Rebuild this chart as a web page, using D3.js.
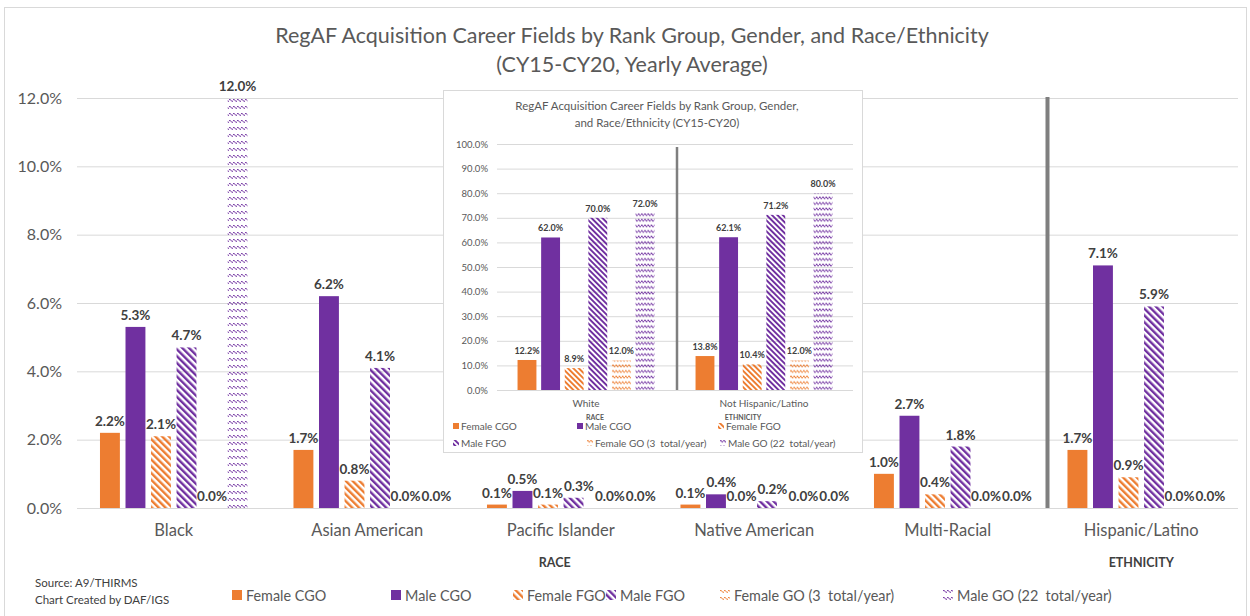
<!DOCTYPE html>
<html><head><meta charset="utf-8">
<script src="https://cdn.jsdelivr.net/npm/d3@7"></script>
<style>
html,body{margin:0;padding:0;background:#fff;}
svg{display:block;font-family:Lato,"Open Sans",sans-serif;}
text{white-space:pre;}
</style></head>
<body><svg id="chart" width="1250" height="616"></svg>
<script>
// ---------- DATA ----------
const mainCategories = ["Black","Asian American","Pacific Islander","Native American","Multi-Racial","Hispanic/Latino"];
const seriesNames = ["Female CGO","Male CGO","Female FGO","Male FGO","Female GO (3  total/year)","Male GO (22  total/year)"];
const femaleCGO = [2.2, 1.7, 0.1, 0.1, 1.0, 1.7];
const maleCGO   = [5.3, 6.2, 0.5, 0.4, 2.7, 7.1];
const femaleFGO = [2.1, 0.8, 0.1, 0.0, 0.4, 0.9];
const maleFGO   = [4.7, 4.1, 0.3, 0.2, 1.8, 5.9];
const femaleGO  = [0.0, 0.0, 0.0, 0.0, 0.0, 0.0];
const maleGO    = [12.0, 0.0, 0.0, 0.0, 0.0, 0.0];
const mainTicks = [0, 2, 4, 6, 8, 10, 12];

const insetCategories = ["White","Not Hispanic/Latino"];
const insetFemaleCGO = [12.2, 13.8];
const insetMaleCGO   = [62.0, 62.1];
const insetFemaleFGO = [8.9, 10.4];
const insetMaleFGO   = [70.0, 71.2];
const insetFemaleGO  = [12.0, 12.0];
const insetMaleGO    = [72.0, 80.0];
const insetTicks = [0,10,20,30,40,50,60,70,80,90,100];

const mainTitle = ["RegAF Acquisition Career Fields by Rank Group, Gender, and Race/Ethnicity","(CY15-CY20, Yearly Average)"];
const insetTitle = ["RegAF Acquisition Career Fields by Rank Group, Gender,","and Race/Ethnicity (CY15-CY20)"];
const sourceLines = ["Source: A9/THIRMS","Chart Created by DAF/IGS"];

// ---------- STYLE ----------
const ORANGE = "#ED7D31", PURPLE = "#7030A0";
const seriesStyle = [
  {color:ORANGE, kind:"solid"},
  {color:PURPLE, kind:"solid"},
  {color:ORANGE, kind:"stripe"},
  {color:PURPLE, kind:"stripe"},
  {color:ORANGE, kind:"wave"},
  {color:PURPLE, kind:"wave"}
];

const svg = d3.select("#chart");
const defs = svg.append("defs");

function makePatterns(suffix, scale){
  [["o",ORANGE],["p",PURPLE]].forEach(([k,c])=>{
    const sp = defs.append("pattern").attr("id","stripe-"+k+suffix)
      .attr("patternUnits","userSpaceOnUse").attr("width",4.8*scale).attr("height",4.8*scale)
      .attr("patternTransform","rotate(-45)");
    sp.append("rect").attr("x",0).attr("y",0).attr("width",2.4*scale).attr("height",4.8*scale).attr("fill",c);
    const wp = defs.append("pattern").attr("id","wave-"+k+suffix)
      .attr("patternUnits","userSpaceOnUse").attr("width",4*scale).attr("height",7*scale);
    wp.append("path").attr("d",`M0,${2*scale} L${1*scale},${1.2*scale} L${3*scale},${3.6*scale} L${4*scale},${2.8*scale}`)
      .attr("stroke",c).attr("stroke-width",1).attr("fill","none");
  });
}
makePatterns("", 1);
makePatterns("-s", 0.8);

function fillFor(i, suffix){
  const s = seriesStyle[i];
  const k = s.color===ORANGE ? "o" : "p";
  if (s.kind==="solid") return s.color;
  return `url(#${s.kind}-${k}${suffix})`;
}

// push overlapping labels to the right (like the spreadsheet's label placement)
function spreadLabels(sel, fontSize){
  const placed = [];
  sel.each(function(){
    const t = d3.select(this);
    const w = this.getComputedTextLength();
    let cx = +t.attr("x");
    const yb = +t.attr("y");
    placed.forEach(p=>{
      if (Math.abs(p.y - yb) < fontSize*0.95 && cx - w/2 < p.r + 1) cx = p.r + 1 + w/2;
    });
    t.attr("x", cx);
    placed.push({r: cx + w/2, y: yb});
  });
}

// outer frame
svg.append("rect").attr("x",4.5).attr("y",7.5).attr("width",1242).attr("height",620)
  .attr("fill","#fff").attr("stroke","#d9d9d9");

// ---------- MAIN CHART ----------
const mainSeries = [femaleCGO, maleCGO, femaleFGO, maleFGO, femaleGO, maleGO];
const y = d3.scaleLinear().domain([0,12]).range([508,98]);
const x = d3.scaleBand().domain(mainCategories).range([77,1238]);
const xs = d3.scaleBand().domain(d3.range(6)).range([0,x.bandwidth()]).paddingInner(0.22).paddingOuter(0.9);

svg.append("g").attr("transform","translate(77,0)")
  .call(d3.axisLeft(y).tickValues(mainTicks).tickSize(-(1238-77)).tickFormat(""))
  .call(g=>g.select(".domain").remove())
  .call(g=>g.selectAll("line").attr("stroke","#d9d9d9"));
svg.append("g").attr("transform","translate(77,0)")
  .call(d3.axisLeft(y).tickValues(mainTicks).tickSize(0).tickPadding(15).tickFormat(d=>d.toFixed(1)+"%"))
  .call(g=>g.select(".domain").remove())
  .call(g=>g.selectAll("text").attr("fill","#595959").style("font-size","16px").style("font-family","Lato"));

const groups = svg.append("g").selectAll("g").data(mainCategories).join("g")
  .attr("transform",d=>`translate(${x(d)},0)`);
groups.each(function(cat, ci){
  const g = d3.select(this);
  mainSeries.forEach((arr, si)=>{
    const v = arr[ci];
    g.append("rect").attr("x",xs(si)).attr("width",xs.bandwidth())
      .attr("y",y(v)).attr("height",y(0)-y(v)).attr("fill",fillFor(si,""));
  });
  const labels = g.append("g").selectAll("text").data(mainSeries.map(a=>a[ci])).join("text")
    .attr("x",(v,si)=>xs(si)+xs.bandwidth()/2).attr("y",v=>y(v)-7)
    .attr("text-anchor","middle").attr("fill","#404040")
    .style("font-size","13.5px").style("font-weight","bold")
    .text(v=>v.toFixed(1)+"%");
  spreadLabels(labels, 13.5);
});

svg.append("g").selectAll("text").data(mainCategories).join("text")
  .attr("x",d=>x(d)+x.bandwidth()/2).attr("y",536).attr("text-anchor","middle")
  .attr("fill","#595959").style("font-size","16.5px").text(d=>d);

const sepX = x("Hispanic/Latino")+3;
svg.append("line").attr("x1",sepX).attr("x2",sepX).attr("y1",97).attr("y2",508)
  .attr("stroke","#7f7f7f").attr("stroke-width",4);

svg.append("text").attr("x",(77+x("Hispanic/Latino"))/2-6).attr("y",567).attr("text-anchor","middle")
  .attr("fill","#404040").style("font-size","12.5px").style("font-weight","bold").text("RACE");
svg.append("text").attr("x",x("Hispanic/Latino")+x.bandwidth()/2).attr("y",567).attr("text-anchor","middle")
  .attr("fill","#404040").style("font-size","12.5px").style("font-weight","bold").text("ETHNICITY");

svg.append("g").selectAll("text").data(mainTitle).join("text")
  .attr("x",632).attr("y",(d,i)=>43+i*29).attr("text-anchor","middle")
  .attr("fill","#595959").style("font-size","21.5px").text(d=>d);

svg.append("g").selectAll("text").data(sourceLines).join("text")
  .attr("x",35).attr("y",(d,i)=>587+i*17).attr("fill","#404040")
  .style("font-size","11.5px").text(d=>d);

const legX = [232, 391, 513, 606, 720, 943];
const leg = svg.append("g").selectAll("g").data(seriesNames).join("g")
  .attr("transform",(d,i)=>`translate(${legX[i]},596)`);
leg.append("rect").attr("x",0).attr("y",-6).attr("width",10).attr("height",10)
  .attr("fill",(d,i)=>fillFor(i,""));
leg.append("text").attr("x",14).attr("y",4.5).attr("fill","#595959")
  .style("font-size","14.4px").text(d=>d);

// ---------- INSET CHART ----------
const ins = svg.append("g");
ins.append("rect").attr("x",443.5).attr("y",90.5).attr("width",419).attr("height",362)
  .attr("fill","#fff").attr("stroke","#d9d9d9");
const insetSeries = [insetFemaleCGO, insetMaleCGO, insetFemaleFGO, insetMaleFGO, insetFemaleGO, insetMaleGO];
const yi = d3.scaleLinear().domain([0,100]).range([390,144]);
const xi = d3.scaleBand().domain(insetCategories).range([497,853]);
const xis = d3.scaleBand().domain(d3.range(6)).range([0,xi.bandwidth()]).paddingInner(0.2).paddingOuter(0.87);

ins.append("g").attr("transform","translate(497,0)")
  .call(d3.axisLeft(yi).tickValues(insetTicks).tickSize(-(853-497)).tickFormat(""))
  .call(g=>g.select(".domain").remove())
  .call(g=>g.selectAll("line").attr("stroke","#d9d9d9"));
ins.append("g").attr("transform","translate(497,0)")
  .call(d3.axisLeft(yi).tickValues(insetTicks).tickSize(0).tickPadding(9).tickFormat(d=>d.toFixed(1)+"%"))
  .call(g=>g.select(".domain").remove())
  .call(g=>g.selectAll("text").attr("fill","#595959").style("font-size","9.5px").style("font-family","Lato"));

const igroups = ins.append("g").selectAll("g").data(insetCategories).join("g")
  .attr("transform",d=>`translate(${xi(d)},0)`);
igroups.each(function(cat, ci){
  const g = d3.select(this);
  insetSeries.forEach((arr, si)=>{
    const v = arr[ci];
    g.append("rect").attr("x",xis(si)).attr("width",xis.bandwidth())
      .attr("y",yi(v)).attr("height",yi(0)-yi(v)).attr("fill",fillFor(si,"-s"));
    g.append("text").attr("x",xis(si)+xis.bandwidth()/2).attr("y",yi(v)-6)
      .attr("text-anchor","middle").attr("fill","#404040")
      .style("font-size","9px").style("font-weight","bold")
      .text(v.toFixed(1)+"%");
  });
});
const isepX = xi("Not Hispanic/Latino")+2;
ins.append("line").attr("x1",isepX).attr("x2",isepX).attr("y1",147).attr("y2",390)
  .attr("stroke","#7f7f7f").attr("stroke-width",2.5);

ins.append("g").selectAll("text").data(insetCategories).join("text")
  .attr("x",d=>xi(d)+xi.bandwidth()/2).attr("y",407).attr("text-anchor","middle")
  .attr("fill","#595959").style("font-size","10px").text(d=>d);
ins.append("text").attr("x",xi("White")+xi.bandwidth()/2+9).attr("y",420).attr("text-anchor","middle")
  .attr("fill","#595959").style("font-size","7px").style("font-weight","bold").text("RACE");
ins.append("text").attr("x",xi("Not Hispanic/Latino")+xi.bandwidth()/2-21).attr("y",420).attr("text-anchor","middle")
  .attr("fill","#595959").style("font-size","7px").style("font-weight","bold").text("ETHNICITY");

ins.append("g").selectAll("text").data(insetTitle).join("text")
  .attr("x",657).attr("y",(d,i)=>110+i*17).attr("text-anchor","middle")
  .attr("fill","#595959").style("font-size","11.5px").text(d=>d);

const ilegPos = [[453,428],[577,428],[718,428],[453,445],[587,445],[720,445]];
const ileg = ins.append("g").selectAll("g").data(seriesNames).join("g")
  .attr("transform",(d,i)=>`translate(${ilegPos[i][0]},${ilegPos[i][1]})`);
ileg.append("rect").attr("x",0).attr("y",-5).attr("width",6).attr("height",6)
  .attr("fill",(d,i)=>fillFor(i,"-s"));
ileg.append("text").attr("x",8).attr("y",1.5).attr("fill","#595959")
  .style("font-size","10px").text(d=>d);
</script></body></html>
